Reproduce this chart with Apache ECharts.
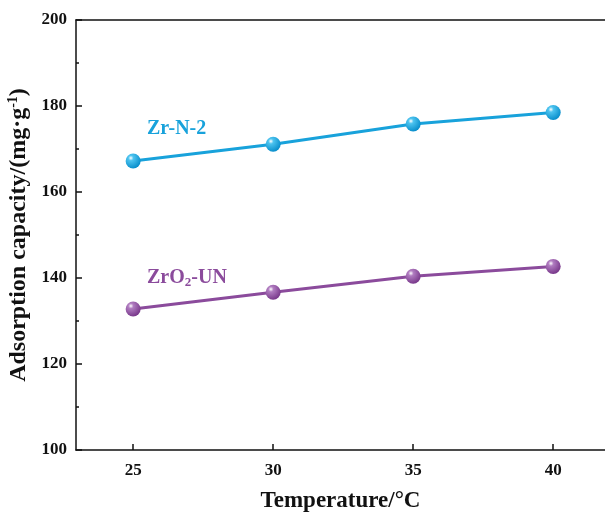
<!DOCTYPE html>
<html><head><meta charset="utf-8">
<script src="https://cdn.jsdelivr.net/npm/echarts@6/dist/echarts.min.js"></script>
<style>html,body{margin:0;padding:0;background:#fff}#c{width:605px;height:513px}</style>
</head><body><div id="c"></div>
<script>
const temps = [25, 30, 35, 40];
const zrN2 = [167.2, 171.1, 175.8, 178.5];
const zrO2UN = [132.8, 136.7, 140.4, 142.7];
const yTicks = [100, 120, 140, 160, 180, 200];
const xTicks = [25, 30, 35, 40];

const FONT = '"Liberation Serif","Times New Roman",serif';
const cyan = '#18a2db';
const purple = '#8b4b9c';

function sphere(c, light) {
  return new echarts.graphic.RadialGradient(0.35, 0.3, 0.7, [
    {offset: 0, color: '#ffffff'},
    {offset: 0.25, color: light},
    {offset: 1, color: c}
  ]);
}

const chart = echarts.init(document.getElementById('c'));
chart.setOption({
  animation: false,
  grid: {left: 76, top: 20, right: 0, bottom: 63, containLabel: false, outerBoundsMode: 'none'},
  xAxis: [{
    type: 'value', min: 22.96, max: 41.85,
    axisLine: {show: true, lineStyle: {color: '#111', width: 1.5}},
    axisTick: {show: true, inside: true, length: 6, lineStyle: {color: '#111', width: 1.5},
      customValues: xTicks},
    splitLine: {show: false},
    axisLabel: {fontFamily: FONT, fontWeight: 'bold', fontSize: 17, color: '#111', margin: 12,
      customValues: xTicks},
    name: 'Temperature/°C', nameLocation: 'middle', nameGap: 40,
    nameTextStyle: {fontFamily: FONT, fontWeight: 'bold', fontSize: 23, color: '#111'}
  }, {
    type: 'value', position: 'top', min: 22.96, max: 41.85,
    axisLine: {show: true, lineStyle: {color: '#111', width: 1.5}},
    axisTick: {show: false}, axisLabel: {show: false}, splitLine: {show: false}
  }],
  yAxis: {
    type: 'value', min: 100, max: 200, interval: 20,
    axisLine: {show: true, lineStyle: {color: '#111', width: 1.5}},
    axisTick: {show: true, inside: true, length: 6, lineStyle: {color: '#111', width: 1.5}},
    minorTick: {show: true, splitNumber: 2, length: 3, lineStyle: {color: '#111', width: 1.5}},
    splitLine: {show: false},
    axisLabel: {fontFamily: FONT, fontWeight: 'bold', fontSize: 17, color: '#111', margin: 9},
    name: '{t|Adsorption capacity/(mg·g}{s|-1}{t|)}', nameLocation: 'middle', nameGap: 38,
    nameTextStyle: {fontFamily: FONT, fontWeight: 'bold', fontSize: 24, color: '#111',
      rich: {t: {fontFamily: FONT, fontWeight: 'bold', fontSize: 24, color: '#111'},
             s: {fontFamily: FONT, fontWeight: 'bold', fontSize: 14, color: '#111', verticalAlign: 'top', padding: [0,0,10,0]}}}
  },
  series: [
    {type: 'line', data: temps.map((t, i) => [t, zrN2[i]]), symbol: 'circle', symbolSize: 15,
      lineStyle: {color: cyan, width: 3}, itemStyle: {color: sphere('#0a8fcc', '#4cc3ef'), borderWidth: 0}},
    {type: 'line', data: temps.map((t, i) => [t, zrO2UN[i]]), symbol: 'circle', symbolSize: 15,
      lineStyle: {color: purple, width: 3}, itemStyle: {color: sphere('#7a3a8c', '#b07cc0'), borderWidth: 0}}
  ],
  graphic: [
    {type: 'text', left: 147, top: 119, style: {text: 'Zr-N-2', fill: cyan, font: 'bold 20px ' + FONT}},
    {type: 'text', left: 147, top: 268, style: {text: '{a|ZrO}{b|2}{a|-UN}', fill: purple,
      rich: {a: {fontFamily: FONT, fontWeight: 'bold', fontSize: 20, color: purple},
             b: {fontFamily: FONT, fontWeight: 'bold', fontSize: 13, color: purple, verticalAlign: 'bottom', padding: [9,0,0,0]}}}}
  ]
});
</script></body></html>
